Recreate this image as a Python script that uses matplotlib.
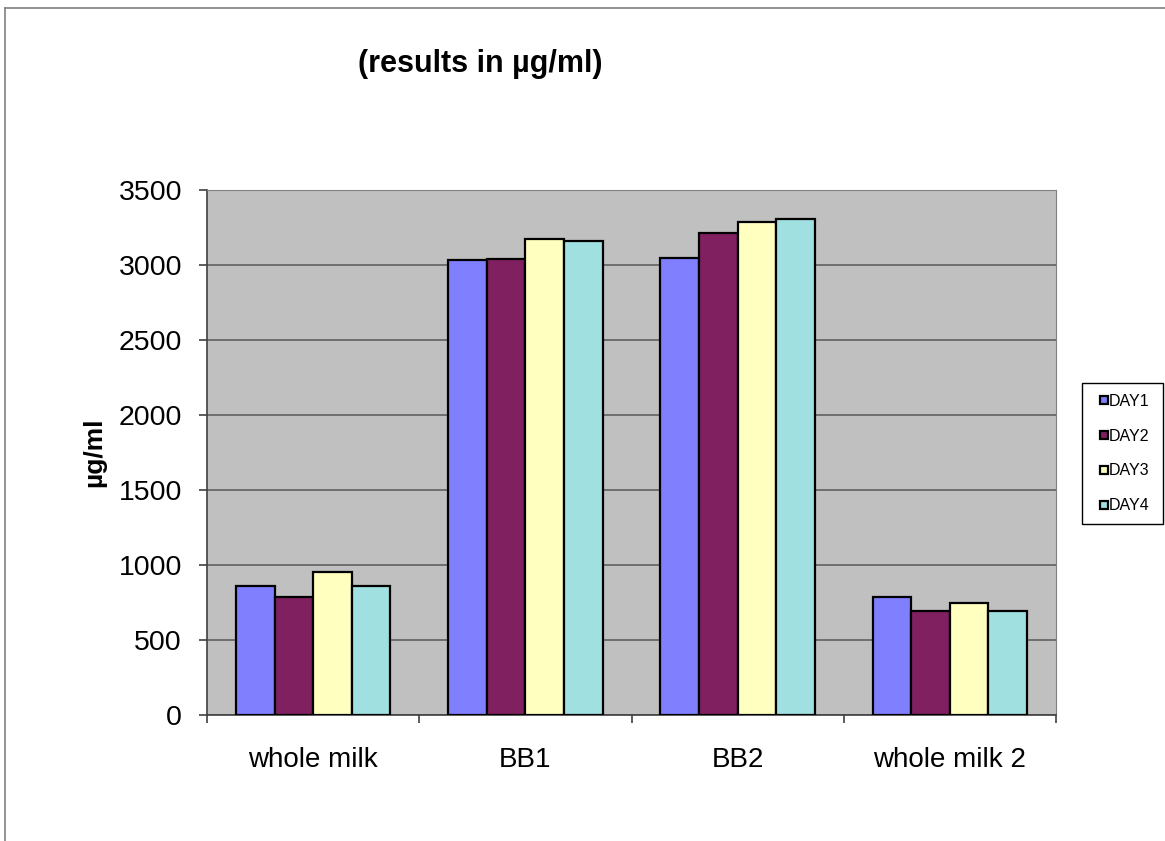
import matplotlib
matplotlib.use("Agg")
import matplotlib.pyplot as plt
import numpy as np
from matplotlib.lines import Line2D

categories = ["whole milk", "BB1", "BB2", "whole milk 2"]
series = ["DAY1", "DAY2", "DAY3", "DAY4"]
day1 = [862, 3033, 3044, 787]
day2 = [784, 3040, 3215, 693]
day3 = [951, 3173, 3289, 749]
day4 = [862, 3160, 3309, 696]
colors = ["#8080FF", "#802060", "#FFFFC0", "#A0E0E0"]

plt.rcParams["font.family"] = ["Liberation Sans", "DejaVu Sans"]

fig = plt.figure(figsize=(11.65, 8.41), dpi=100)
ax = fig.add_axes([207 / 1165, 1 - 715 / 841, 849 / 1165, 525 / 841])
ax.set_facecolor("#C0C0C0")

x = np.arange(len(categories))
w = 1 / 5.5
for i, (vals, col, name) in enumerate(zip([day1, day2, day3, day4], colors, series)):
    ax.bar(x + (i - 1.5) * w, vals, w, color=col, edgecolor="black", lw=1.6, label=name, zorder=3)

ax.set_xlim(-0.5, 3.5)
ax.set_ylim(0, 3500)
ax.set_yticks(range(0, 3501, 500))
ax.yaxis.grid(True, color="#606060", lw=1.2, zorder=1)
ax.set_xticks(x)
ax.set_xticklabels(categories, fontsize=20)
ax.tick_params(axis="x", length=0, pad=23)
ax.set_xticks(np.arange(-0.5, 4, 1), minor=True)
ax.tick_params(axis="x", which="minor", length=6, width=1.2, color="#404040")
ax.tick_params(axis="y", labelsize=20.5, length=6, width=1.2, color="#404040", pad=12)
for s in ["top", "right"]:
    ax.spines[s].set_color("#808080")
for s in ["left", "bottom"]:
    ax.spines[s].set_color("#404040")
    ax.spines[s].set_linewidth(1.2)

ax.set_ylabel("µg/ml", fontsize=19, fontweight="bold")
ax.yaxis.set_label_coords(-0.119, 0.5)
fig.text(0.412, 0.924, "(results in µg/ml)", fontsize=22, fontweight="bold", ha="center", va="center")

# legend: small squares with black edge, box on the right
handles = [Line2D([], [], ls="none", marker="s", markersize=5.5, markerfacecolor=c,
                  markeredgecolor="black", markeredgewidth=1.6) for c in colors]
fig.legend(handles, series, loc="upper left",
           bbox_to_anchor=(1082 / 1165, 1 - 521 / 841, 81 / 1165, 138 / 841), mode="expand",
           fontsize=11.5, frameon=True, fancybox=False, edgecolor="black", framealpha=1,
           handlelength=1.44, handletextpad=-0.47, labelspacing=1.24,
           borderpad=0.68, borderaxespad=0)

fig.add_artist(Line2D([5 / 1165, 5 / 1165], [0, 1 - 8 / 841], color="#808080", lw=1.2))
fig.add_artist(Line2D([5 / 1165, 1], [1 - 8 / 841, 1 - 8 / 841], color="#808080", lw=1.2))

fig.savefig("out.png", dpi=100)
